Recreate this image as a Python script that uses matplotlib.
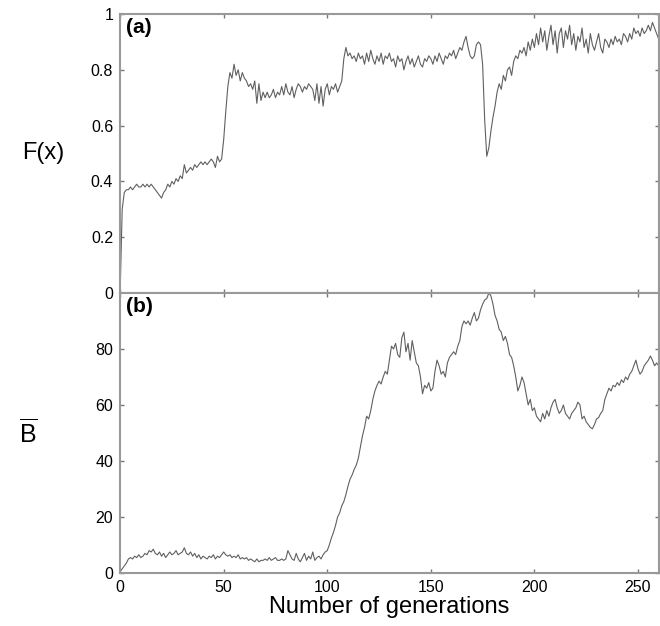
import matplotlib
matplotlib.use('Agg')
import matplotlib.pyplot as plt

plt.rcParams['font.family'] = ['Liberation Sans', 'DejaVu Sans']
plt.rcParams['mathtext.fontset'] = 'custom'
plt.rcParams['mathtext.rm'] = 'Liberation Sans'

# fitness F(x) per generation
F = [0.00, 0.30, 0.36, 0.37, 0.37, 0.38, 0.37, 0.38, 0.39, 0.38,
     0.38, 0.39, 0.38, 0.39, 0.38, 0.39, 0.38, 0.37, 0.36, 0.35,
     0.34, 0.36, 0.37, 0.39, 0.38, 0.40, 0.39, 0.41, 0.40, 0.42,
     0.41, 0.46, 0.43, 0.44, 0.45, 0.44, 0.46, 0.45, 0.46, 0.47,
     0.46, 0.47, 0.46, 0.47, 0.48, 0.47, 0.45, 0.49, 0.47, 0.48,
     0.55, 0.65, 0.74, 0.79, 0.77, 0.82, 0.78, 0.80, 0.76, 0.79,
     0.77, 0.76, 0.74, 0.75, 0.73, 0.76, 0.68, 0.75, 0.69, 0.72,
     0.70, 0.72, 0.70, 0.71, 0.73, 0.70, 0.72, 0.71, 0.74, 0.71,
     0.75, 0.72, 0.71, 0.74, 0.70, 0.73, 0.75, 0.74, 0.72, 0.74,
     0.73, 0.75, 0.74, 0.73, 0.69, 0.75, 0.68, 0.74, 0.67, 0.73,
     0.75, 0.71, 0.74, 0.73, 0.75, 0.72, 0.74, 0.76, 0.84, 0.88,
     0.85, 0.86, 0.84, 0.85, 0.83, 0.86, 0.84, 0.85, 0.82, 0.86,
     0.83, 0.87, 0.84, 0.82, 0.85, 0.83, 0.86, 0.82, 0.85, 0.84,
     0.86, 0.83, 0.84, 0.81, 0.85, 0.83, 0.84, 0.80, 0.83, 0.85,
     0.82, 0.84, 0.81, 0.83, 0.85, 0.82, 0.81, 0.84, 0.83, 0.85,
     0.84, 0.82, 0.85, 0.83, 0.86, 0.84, 0.82, 0.85, 0.84, 0.86,
     0.85, 0.87, 0.84, 0.86, 0.88, 0.87, 0.90, 0.92, 0.88, 0.85,
     0.84, 0.85, 0.89, 0.90, 0.89, 0.82, 0.62, 0.49, 0.52, 0.58,
     0.63, 0.67, 0.72, 0.75, 0.73, 0.78, 0.76, 0.80, 0.81, 0.78,
     0.83, 0.85, 0.84, 0.87, 0.86, 0.88, 0.85, 0.90, 0.87, 0.91,
     0.88, 0.93, 0.89, 0.95, 0.90, 0.94, 0.87, 0.92, 0.96, 0.89,
     0.94, 0.86, 0.93, 0.95, 0.88, 0.94, 0.91, 0.96, 0.89, 0.93,
     0.87, 0.92, 0.90, 0.95, 0.88, 0.91, 0.86, 0.93, 0.89, 0.87,
     0.90, 0.93, 0.88, 0.86, 0.91, 0.90, 0.88, 0.91, 0.89, 0.92,
     0.90, 0.91, 0.89, 0.93, 0.92, 0.90, 0.93, 0.91, 0.95, 0.93,
     0.94, 0.92, 0.95, 0.93, 0.94, 0.96, 0.94, 0.97, 0.95, 0.93, 0.91]

# mean B per generation
B = [0.5, 1.5, 2.5, 3.5, 5.0, 5.5, 5.0, 6.0, 5.5, 6.5,
     5.5, 6.0, 7.0, 6.5, 8.0, 7.5, 8.5, 7.0, 6.5, 7.5,
     6.0, 7.0, 5.5, 6.5, 7.5, 6.5, 7.0, 8.0, 6.5, 7.0,
     7.5, 9.0, 7.0, 6.5, 7.5, 6.0, 7.0, 5.5, 6.5, 5.0,
     6.0, 5.5, 5.0, 6.0, 5.5, 6.5, 5.0, 6.0, 5.5, 6.5,
     7.5, 6.5, 6.0, 6.5, 5.5, 6.0, 5.5, 6.5, 5.0, 5.5,
     5.0, 5.5, 4.5, 5.0, 4.5, 4.0, 5.0, 4.0, 4.5, 4.5,
     5.0, 4.5, 5.5, 4.5, 5.0, 5.5, 4.5, 4.5, 5.0, 4.5,
     5.0, 8.0, 6.5, 5.0, 4.5, 7.0, 5.0, 4.0, 5.5, 7.0,
     4.5, 6.0, 5.0, 7.5, 4.5, 5.5, 6.0, 5.0, 6.5, 7.5,
     8.0, 10.0, 12.5, 14.5, 17.0, 20.0, 21.5, 24.0, 25.5, 28.0,
     31.0, 33.5, 35.0, 37.0, 38.5, 41.0, 45.0, 49.0, 52.0, 56.0,
     55.0, 58.0, 62.0, 65.0, 67.0, 68.5, 67.5, 70.0, 72.0, 71.0,
     76.0, 81.0, 80.0, 82.0, 78.0, 77.0, 84.0, 86.0, 79.0, 82.0,
     76.0, 83.0, 79.0, 75.0, 74.0, 70.0, 64.0, 67.0, 66.0, 68.0,
     65.0, 66.0, 72.0, 76.0, 74.0, 71.0, 72.0, 70.0, 75.0, 77.0,
     78.0, 79.0, 78.0, 81.0, 83.0, 88.0, 90.0, 89.0, 90.0, 88.5,
     91.0, 93.0, 90.0, 91.0, 94.0, 96.0, 97.5, 98.0, 100.0, 99.0,
     96.0, 92.0, 90.0, 87.0, 86.0, 83.0, 84.5, 82.0, 78.0, 77.0,
     74.0, 70.0, 65.0, 67.0, 70.0, 68.0, 64.0, 60.0, 62.0, 58.0,
     59.0, 56.0, 55.0, 54.0, 57.0, 55.0, 58.0, 56.0, 59.0, 61.0,
     62.0, 59.0, 57.0, 58.0, 60.0, 57.0, 56.0, 55.0, 57.0, 58.0,
     59.0, 61.0, 60.0, 55.0, 56.0, 54.0, 53.0, 52.0, 51.5, 53.0,
     55.0, 55.5, 57.0, 58.0, 62.0, 64.0, 66.0, 65.0, 67.0, 66.5,
     68.0, 67.0, 69.0, 68.0, 70.0, 69.0, 71.0, 72.0, 74.0, 76.0,
     73.0, 71.0, 72.0, 74.0, 75.0, 76.0, 77.5, 76.0, 74.0, 75.0, 74.0]

xticks = [0, 50, 100, 150, 200, 250]
fticks = [0, 0.2, 0.4, 0.6, 0.8, 1]
flabels = ['0', '0.2', '0.4', '0.6', '0.8', '1']
bticks = [0, 20, 40, 60, 80]

fig = plt.figure(figsize=(6.6, 6.26), dpi=100)
ax1 = fig.add_axes([0.182, 0.532, 0.816, 0.4456])
ax2 = fig.add_axes([0.182, 0.0847, 0.816, 0.4473])

line_c = '#606060'
ax1.plot(range(len(F)), F, color=line_c, lw=0.8)
ax2.plot(range(len(B)), B, color=line_c, lw=0.8)

for ax in (ax1, ax2):
    ax.set_xlim(0, 260)
    ax.set_xticks(xticks)
    ax.tick_params(direction='in', top=True, right=True, length=3,
                   width=1, color='#777777', labelsize=11.5, pad=5)
    for s in ax.spines.values():
        s.set_color('#999999')
        s.set_linewidth(1.5)

ax1.set_ylim(0, 1)
ax1.set_yticks(fticks)
ax1.set_yticklabels(flabels)
ax1.tick_params(labelbottom=False)
ax2.set_ylim(0, 100)
ax2.set_yticks(bticks)

ax1.set_ylabel('F(x)', fontsize=17, rotation=0, labelpad=34, va='center')
ax2.set_ylabel(r'$\overline{\mathrm{B}}$', fontsize=18, rotation=0, labelpad=48, va='center')
ax2.set_xlabel('Number of generations', fontsize=17, labelpad=1)

ax1.text(0.01, 0.985, '(a)', transform=ax1.transAxes, fontsize=15,
         fontweight='bold', va='top', ha='left')
ax2.text(0.01, 0.985, '(b)', transform=ax2.transAxes, fontsize=15,
         fontweight='bold', va='top', ha='left')

fig.savefig('out.png', dpi=100)
